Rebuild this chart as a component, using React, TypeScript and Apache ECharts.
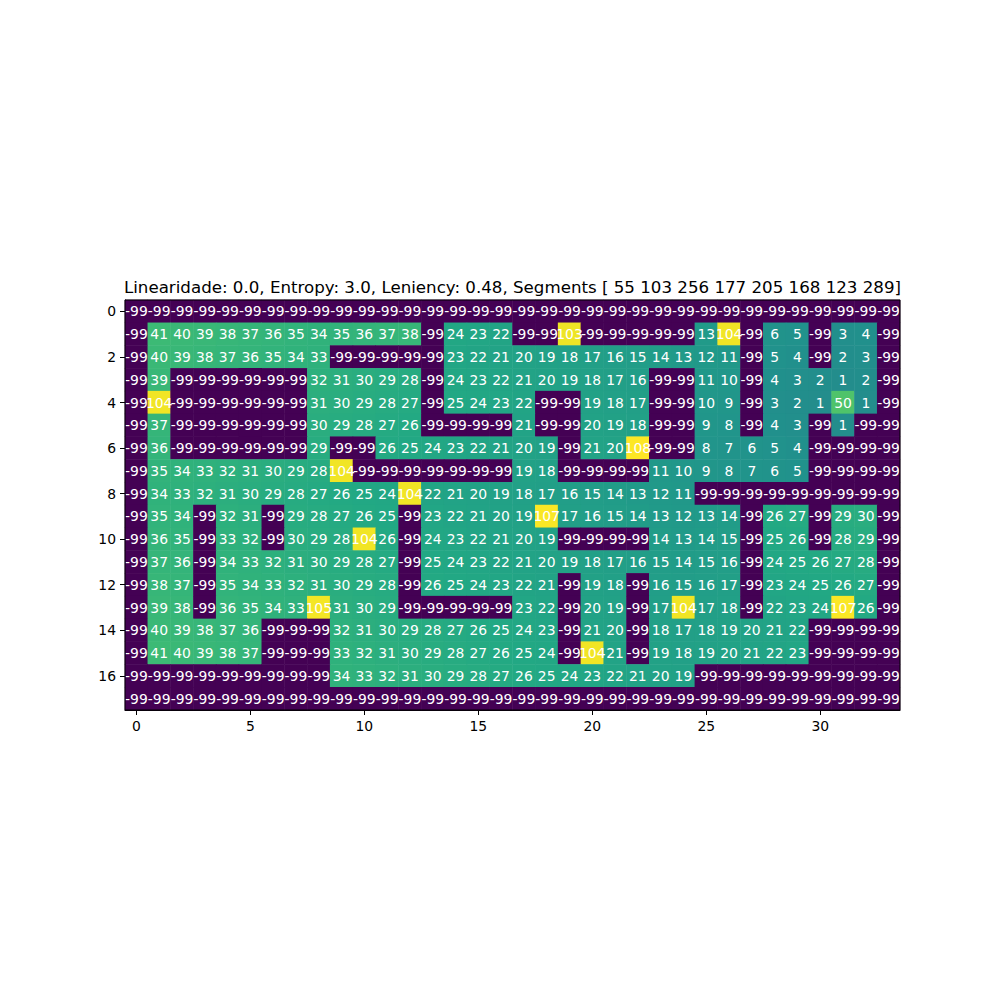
import React, { useEffect, useRef } from "react";
import * as echarts from "echarts";

const titleText =
  "Linearidade: 0.0, Entropy: 3.0, Leniency: 0.48, Segments [ 55 103 256 177 205 168 123 289]";

const xTicks = [0, 5, 10, 15, 20, 25, 30];
const yTicks = [0, 2, 4, 6, 8, 10, 12, 14, 16];

const N = -99;
const row00 = [N, N, N, N, N, N, N, N, N, N, N, N, N, N, N, N, N, N, N, N, N, N, N, N, N, N, N, N, N, N, N, N, N, N];
const row01 = [N, 41, 40, 39, 38, 37, 36, 35, 34, 35, 36, 37, 38, N, 24, 23, 22, N, N, 103, N, N, N, N, N, 13, 104, N, 6, 5, N, 3, 4, N];
const row02 = [N, 40, 39, 38, 37, 36, 35, 34, 33, N, N, N, N, N, 23, 22, 21, 20, 19, 18, 17, 16, 15, 14, 13, 12, 11, N, 5, 4, N, 2, 3, N];
const row03 = [N, 39, N, N, N, N, N, N, 32, 31, 30, 29, 28, N, 24, 23, 22, 21, 20, 19, 18, 17, 16, N, N, 11, 10, N, 4, 3, 2, 1, 2, N];
const row04 = [N, 104, N, N, N, N, N, N, 31, 30, 29, 28, 27, N, 25, 24, 23, 22, N, N, 19, 18, 17, N, N, 10, 9, N, 3, 2, 1, 50, 1, N];
const row05 = [N, 37, N, N, N, N, N, N, 30, 29, 28, 27, 26, N, N, N, N, 21, N, N, 20, 19, 18, N, N, 9, 8, N, 4, 3, N, 1, N, N];
const row06 = [N, 36, N, N, N, N, N, N, 29, N, N, 26, 25, 24, 23, 22, 21, 20, 19, N, 21, 20, 108, N, N, 8, 7, 6, 5, 4, N, N, N, N];
const row07 = [N, 35, 34, 33, 32, 31, 30, 29, 28, 104, N, N, N, N, N, N, N, 19, 18, N, N, N, N, 11, 10, 9, 8, 7, 6, 5, N, N, N, N];
const row08 = [N, 34, 33, 32, 31, 30, 29, 28, 27, 26, 25, 24, 104, 22, 21, 20, 19, 18, 17, 16, 15, 14, 13, 12, 11, N, N, N, N, N, N, N, N, N];
const row09 = [N, 35, 34, N, 32, 31, N, 29, 28, 27, 26, 25, N, 23, 22, 21, 20, 19, 107, 17, 16, 15, 14, 13, 12, 13, 14, N, 26, 27, N, 29, 30, N];
const row10 = [N, 36, 35, N, 33, 32, N, 30, 29, 28, 104, 26, N, 24, 23, 22, 21, 20, 19, N, N, N, N, 14, 13, 14, 15, N, 25, 26, N, 28, 29, N];
const row11 = [N, 37, 36, N, 34, 33, 32, 31, 30, 29, 28, 27, N, 25, 24, 23, 22, 21, 20, 19, 18, 17, 16, 15, 14, 15, 16, N, 24, 25, 26, 27, 28, N];
const row12 = [N, 38, 37, N, 35, 34, 33, 32, 31, 30, 29, 28, N, 26, 25, 24, 23, 22, 21, N, 19, 18, N, 16, 15, 16, 17, N, 23, 24, 25, 26, 27, N];
const row13 = [N, 39, 38, N, 36, 35, 34, 33, 105, 31, 30, 29, N, N, N, N, N, 23, 22, N, 20, 19, N, 17, 104, 17, 18, N, 22, 23, 24, 107, 26, N];
const row14 = [N, 40, 39, 38, 37, 36, N, N, N, 32, 31, 30, 29, 28, 27, 26, 25, 24, 23, N, 21, 20, N, 18, 17, 18, 19, 20, 21, 22, N, N, N, N];
const row15 = [N, 41, 40, 39, 38, 37, N, N, N, 33, 32, 31, 30, 29, 28, 27, 26, 25, 24, N, 104, 21, N, 19, 18, 19, 20, 21, 22, 23, N, N, N, N];
const row16 = [N, N, N, N, N, N, N, N, N, 34, 33, 32, 31, 30, 29, 28, 27, 26, 25, 24, 23, 22, 21, 20, 19, N, N, N, N, N, N, N, N, N];
const row17 = [N, N, N, N, N, N, N, N, N, N, N, N, N, N, N, N, N, N, N, N, N, N, N, N, N, N, N, N, N, N, N, N, N, N];

const rows = [row00, row01, row02, row03, row04, row05, row06, row07, row08, row09, row10, row11, row12, row13, row14, row15, row16, row17];

const viridis = [
  "#440154", "#482475", "#414487", "#355f8d", "#2a788e",
  "#21918c", "#22a884", "#44bf70", "#7ad151", "#bddf26", "#fde725",
];

export default function App() {
  const ref = useRef<HTMLDivElement>(null);
  useEffect(() => {
    if (!ref.current) return;
    const chart = echarts.init(ref.current, undefined, { renderer: "svg" });
    const nCols = rows[0].length;
    const nRows = rows.length;
    const xCats = Array.from({ length: nCols }, (_, i) => String(i));
    const yCats = Array.from({ length: nRows }, (_, i) => String(i));
    const data: number[][] = [];
    rows.forEach((r, y) => r.forEach((v, x) => data.push([x, y, v])));
    let vmin = Infinity, vmax = -Infinity;
    data.forEach((d) => { vmin = Math.min(vmin, d[2]); vmax = Math.max(vmax, d[2]); });
    const font = "DejaVu Sans";
    chart.setOption({
      animation: false,
      backgroundColor: "#ffffff",
      graphic: [
        {
          type: "text",
          x: 512.5,
          y: 287,
          style: {
            text: titleText,
            fill: "#000",
            font: `16.67px "${font}"`,
            textAlign: "center",
            textVerticalAlign: "middle",
          },
        },
        {
          type: "rect",
          shape: { x: 125, y: 300, width: 775, height: 410 },
          style: { fill: "none", stroke: "#000", lineWidth: 1 },
          z: 100,
          silent: true,
        },
      ],
      grid: { left: 125, top: 300, width: 775, height: 410, show: false },
      xAxis: {
        type: "category",
        data: xCats,
        position: "bottom",
        axisLine: { show: true, lineStyle: { color: "#000", width: 1 } },
        axisTick: {
          show: true,
          alignWithLabel: true,
          length: 5,
          interval: (i: number) => xTicks.includes(i),
          lineStyle: { color: "#000" },
        },
        axisLabel: {
          interval: (i: number) => xTicks.includes(i),
          color: "#000",
          fontSize: 13.9,
          fontFamily: font,
          margin: 9,
        },
        splitLine: { show: false },
      },
      yAxis: {
        type: "category",
        data: yCats,
        inverse: true,
        axisLine: { show: true, lineStyle: { color: "#000", width: 1 } },
        axisTick: {
          show: true,
          alignWithLabel: true,
          length: 5,
          interval: (i: number) => yTicks.includes(i),
          lineStyle: { color: "#000" },
        },
        axisLabel: {
          interval: (i: number) => yTicks.includes(i),
          color: "#000",
          fontSize: 13.9,
          fontFamily: font,
          margin: 9,
        },
        splitLine: { show: false },
      },
      visualMap: {
        show: false,
        type: "continuous",
        min: vmin,
        max: vmax,
        dimension: 2,
        inRange: { color: viridis },
      },
      series: [
        {
          type: "heatmap",
          data,
          label: {
            show: true,
            color: "#fff",
            fontSize: 13.9,
            fontFamily: font,
            formatter: (p: any) => String(p.value[2]),
          },
          itemStyle: { borderWidth: 0 },
          emphasis: { disabled: true },
        },
      ],
    });
    return () => chart.dispose();
  }, []);
  return (
    <div style={{ position: "fixed", left: 0, top: 0 }}>
      <div ref={ref} style={{ width: 1000, height: 1000 }} />
    </div>
  );
}
